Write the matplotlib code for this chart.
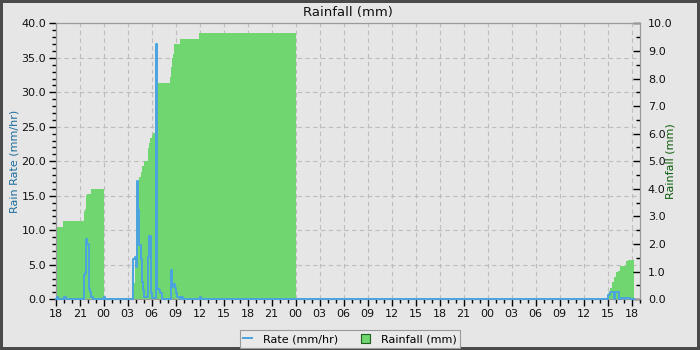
import matplotlib
matplotlib.use("Agg")
from matplotlib import pyplot as plt
from matplotlib.ticker import MultipleLocator, FormatStrFormatter
from matplotlib.patches import Patch

### data ###

# hours after 18:00 on the first day
tick_hours = list(range(0, 73, 3))
tick_labels = ["18", "21", "00", "03", "06", "09", "12", "15",
               "18", "21", "00", "03", "06", "09", "12", "15",
               "18", "21", "00", "03", "06", "09", "12", "15", "18"]

# rain rate (mm/hr), step changes
rate_t = [0.0, 0.1, 0.3, 1.0, 1.25, 3.54, 3.66, 3.79, 3.91, 4.10, 4.23, 4.37, 4.6,
          6.0, 6.2, 9.70, 9.87, 10.0, 10.2, 10.33, 10.45, 10.62, 10.75, 10.87,
          11.04, 11.58, 11.70, 11.87, 12.04, 12.54, 12.70, 12.87, 13.04, 13.25,
          14.37, 14.54, 14.70, 14.91, 15.04, 15.2, 15.54, 15.7, 15.95, 18.0, 18.2,
          69.08, 69.37, 69.79, 69.95, 70.45, 70.66, 71.16, 71.37, 71.79, 72.29]
rate_v = [0.0, 0.3, 0.0, 0.3, 0.0, 3.5, 3.8, 8.7, 8.0, 1.5, 1.0, 0.3, 0.0,
          0.3, 0.0, 5.9, 6.1, 4.7, 17.2, 12.9, 7.9, 5.8, 2.5, 1.4,
          0.4, 6.2, 9.2, 0.9, 0.2, 37.0, 1.5, 1.3, 0.9, 0.1,
          4.3, 1.8, 2.2, 1.6, 0.9, 0.4, 0.0, 0.3, 0.0, 0.3, 0.0,
          0.6, 1.0, 0.1, 1.0, 0.1, 0.2, 0.0, 0.2, 0.0, 0.0]

# daily rainfall total (mm), step changes
rain_t = [0.0, 0.2, 0.95, 3.54, 3.66, 3.79, 3.91, 4.37, 6.0,
          9.70, 9.87, 10.0, 10.2, 10.33, 10.41, 10.62, 10.75, 11.04, 11.5,
          11.66, 11.79, 12.0, 12.2, 12.41, 12.62, 14.29, 14.41, 14.54, 14.66,
          14.83, 15.54, 17.95, 30.0,
          69.08, 69.29, 69.5, 69.79, 70.04, 70.25, 70.54, 70.66, 71.29, 71.5, 72.29]
rain_v = [2.41, 2.61, 2.83, 3.19, 3.28, 3.77, 3.81, 4.0, 0.0,
          0.6, 1.2, 1.6, 3.6, 4.2, 4.44, 4.62, 4.82, 5.02, 5.47,
          5.65, 5.84, 5.96, 6.04, 6.23, 7.85, 8.07, 8.43, 8.73, 8.9,
          9.24, 9.42, 9.64, 0.0,
          0.22, 0.4, 0.64, 0.8, 1.0, 1.04, 1.2, 1.22, 1.4, 1.43, 1.43]

### style ###

bg = "#e6e6e6"
rate_color = "#4aa3df"
rain_color = "#70d670"
spine_color = "#9a9a9a"
grid_color = "#bdbdbd"

fig = plt.figure(figsize=(7, 3.5), dpi=100, facecolor=bg,
                 edgecolor="#4a4a4a", linewidth=4)
ax = fig.add_axes([0.0796, 0.1449, 0.834, 0.7885])
ax.set_facecolor(bg)
ax.set_xlim(0, 73)
ax.set_ylim(0, 40)
ax.grid(True, which="major", color=grid_color, linestyle=(0, (4, 3)), linewidth=0.8)
ax.set_axisbelow(True)

# rainfall area sits above the grid
ax2 = ax.twinx()
ax2.fill_between(rain_t, rain_v, step="post", color=rain_color, linewidth=0)
ax2.set_ylim(0, 10)

# rate line on top of everything
ax3 = ax.twinx()
line, = ax3.plot(rate_t, rate_v, drawstyle="steps-post", color=rate_color,
                 linewidth=1.4, clip_on=False)
ax3.set_ylim(0, 40)
ax3.set_axis_off()

ax.set_xticks(tick_hours)
ax.set_xticklabels(tick_labels)
ax.xaxis.set_minor_locator(MultipleLocator(1))
ax.yaxis.set_major_locator(MultipleLocator(5))
ax.yaxis.set_minor_locator(MultipleLocator(1))
ax.yaxis.set_major_formatter(FormatStrFormatter("%.1f"))
ax2.yaxis.set_major_locator(MultipleLocator(1))
ax2.yaxis.set_minor_locator(MultipleLocator(0.5))
ax2.yaxis.set_major_formatter(FormatStrFormatter("%.1f"))

for a in (ax, ax2):
    a.tick_params(which="major", length=5, width=1, color="black", labelsize=8,
                  labelcolor="#111111", pad=2)
    a.tick_params(which="minor", length=3, width=1, color="black")
    for s in a.spines.values():
        s.set_color(spine_color)
ax2.tick_params(axis="y", which="both", direction="in", pad=6)

ax.set_ylabel("Rain Rate (mm/hr)", color="#1d6c9c", fontsize=8, labelpad=1)
ax2.set_ylabel("Rainfall (mm)", color="#0a5c0a", fontsize=8, labelpad=-5)
ax.set_title("Rainfall (mm)", fontsize=9.5, color="#111111", pad=5)

handles = [line, Patch(facecolor=rain_color, edgecolor="#1f5f1f", linewidth=0.8)]
lgd = fig.legend(handles, ["Rate (mm/hr)", "Rainfall (mm)"], loc="upper center",
                 bbox_to_anchor=(0.5, 0.072), ncol=2, fontsize=8, frameon=True,
                 fancybox=False, edgecolor=spine_color, facecolor="#e9e9e9",
                 framealpha=1, handlelength=0.8, handleheight=0.8,
                 columnspacing=2.0, handletextpad=1.0, borderpad=0.35)
lgd.get_frame().set_linewidth(0.8)

fig.savefig("out.png", dpi=100, facecolor=fig.get_facecolor(),
            edgecolor=fig.get_edgecolor())
